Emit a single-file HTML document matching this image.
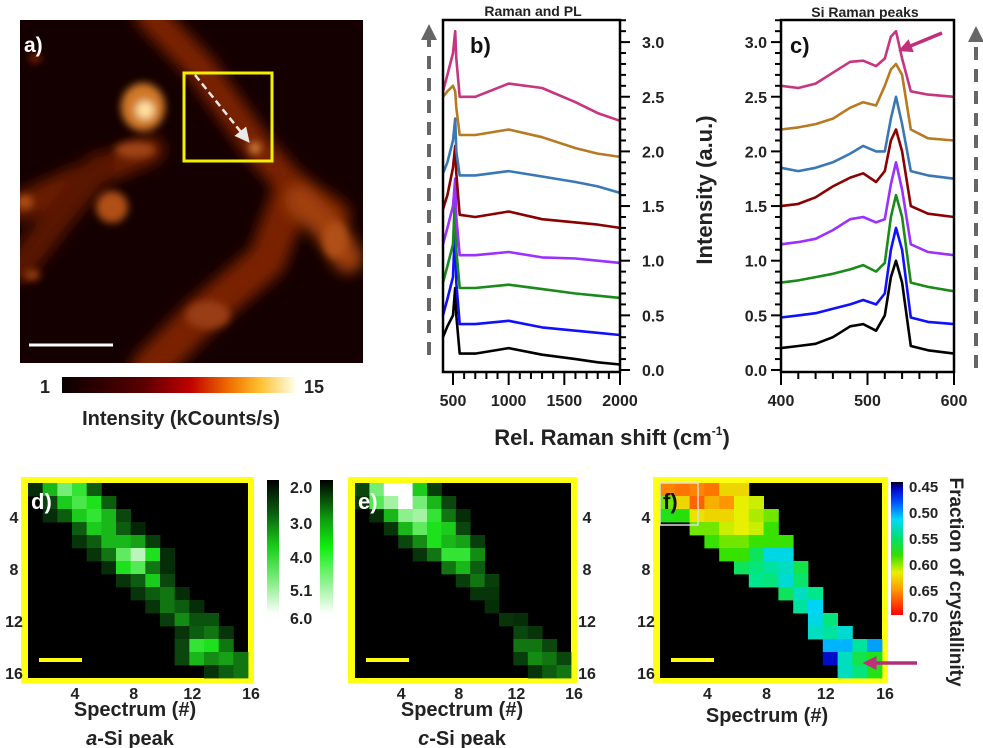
<!DOCTYPE html>
<html><head><meta charset="utf-8"><style>
html,body{margin:0;padding:0;background:#fff;}
svg{display:block;font-family:"Liberation Sans",Arial,sans-serif;font-weight:bold;}
</style></head><body>
<svg id="fig" width="983" height="748" viewBox="0 0 983 748" xmlns="http://www.w3.org/2000/svg">
<defs>
<filter id="bl8" x="-50%" y="-50%" width="200%" height="200%"><feGaussianBlur stdDeviation="7"/></filter>
<filter id="bl4" x="-50%" y="-50%" width="200%" height="200%"><feGaussianBlur stdDeviation="4"/></filter>
<clipPath id="clipA"><rect x="20" y="20" width="343" height="343"/></clipPath>
<linearGradient id="gA" x1="0" x2="1" y1="0" y2="0"><stop offset="0" stop-color="#0a0000"/><stop offset="0.35" stop-color="#5a0000"/><stop offset="0.55" stop-color="#c00000"/><stop offset="0.72" stop-color="#f07000"/><stop offset="0.85" stop-color="#ffc030"/><stop offset="1" stop-color="#ffffe8"/></linearGradient>
<linearGradient id="gG1" x1="0" x2="0" y1="0" y2="1"><stop offset="0" stop-color="#000000"/><stop offset="0.25" stop-color="#0a6010"/><stop offset="0.5" stop-color="#18d018"/><stop offset="0.75" stop-color="#80ec80"/><stop offset="1" stop-color="#ffffff"/></linearGradient>
<linearGradient id="gG2" x1="0" x2="0" y1="0" y2="1"><stop offset="0" stop-color="#000000"/><stop offset="0.3" stop-color="#10a010"/><stop offset="0.5" stop-color="#10ee10"/><stop offset="0.8" stop-color="#a0f4a0"/><stop offset="1" stop-color="#ffffff"/></linearGradient>
<linearGradient id="gF" x1="0" x2="0" y1="0" y2="1"><stop offset="0" stop-color="#000000"/><stop offset="0.04" stop-color="#0000c0"/><stop offset="0.15" stop-color="#0050ff"/><stop offset="0.28" stop-color="#00d8ff"/><stop offset="0.42" stop-color="#00e070"/><stop offset="0.55" stop-color="#30e000"/><stop offset="0.68" stop-color="#e8f000"/><stop offset="0.8" stop-color="#ffa000"/><stop offset="1" stop-color="#ff0000"/></linearGradient>
<marker id="arrW" markerWidth="6" markerHeight="6" refX="3" refY="3" orient="auto"><path d="M0,0 L6,3 L0,6 z" fill="#e8e8e8"/></marker>
<marker id="arrG" markerWidth="4" markerHeight="4" refX="2" refY="2" orient="auto"><path d="M0,0 L4,2 L0,4 z" fill="#666"/></marker>
<marker id="arrP" markerWidth="4" markerHeight="4" refX="1" refY="2" orient="auto"><path d="M0,0 L4,2 L0,4 z" fill="#c0307a"/></marker>
</defs>

<!-- Panel a -->
<g>
<rect x="20" y="20" width="343" height="343" fill="#140000"/>
<g clip-path="url(#clipA)">
<g filter="url(#bl8)" fill="none" stroke-linecap="round">
<polyline points="150,15 200,67 260,150 293,187 335,215" stroke="#7a2204" stroke-width="30"/>
<polyline points="293,190 267,260 200,317 150,368" stroke="#7a2204" stroke-width="38"/>
<polyline points="150,150 90,175 20,207" stroke="#6a1c03" stroke-width="28"/>
<polyline points="100,167 60,215 20,267" stroke="#5a1603" stroke-width="30"/>
<polyline points="300,200 330,230 348,258" stroke="#a04010" stroke-width="30"/>
</g>
<g filter="url(#bl4)">
<ellipse cx="143" cy="107" rx="22" ry="24" fill="#d07828"/>
<ellipse cx="145" cy="110" rx="9" ry="9" fill="#ffe0a0"/>
<ellipse cx="112" cy="207" rx="16" ry="16" fill="#b05018"/>
<ellipse cx="135" cy="150" rx="20" ry="8" fill="#a04414"/>
<ellipse cx="25" cy="202" rx="8" ry="7" fill="#b05018"/>
<ellipse cx="208" cy="315" rx="22" ry="14" fill="#983e14"/>
<ellipse cx="335" cy="240" rx="12" ry="18" fill="#b05018"/>
<ellipse cx="255" cy="148" rx="6" ry="6" fill="#d08040"/>
<ellipse cx="35" cy="58" rx="6" ry="5" fill="#802004"/>
<ellipse cx="32" cy="275" rx="8" ry="5" fill="#a04010"/>
</g>
</g>
<text x="24" y="52" font-size="21" fill="#fff">a)</text>
<rect x="184" y="73" width="88" height="88" fill="none" stroke="#f0f000" stroke-width="3"/>
<line x1="195" y1="75" x2="245" y2="137" stroke="#e8e8e8" stroke-width="2.5" stroke-dasharray="7,4" marker-end="url(#arrW)"/>
<line x1="29" y1="345" x2="113" y2="345" stroke="#fff" stroke-width="3"/>
</g>
<g>
<rect x="62" y="377" width="233" height="16" fill="url(#gA)"/>
<text x="45" y="393" font-size="18" text-anchor="middle" fill="#222">1</text>
<text x="314" y="393" font-size="18" text-anchor="middle" fill="#222">15</text>
<text x="181" y="425" font-size="20" text-anchor="middle" fill="#222">Intensity (kCounts/s)</text>
</g>

<!-- Panels b, c -->
<g id="specB"></g>
<g id="specC"></g>
<text x="533" y="16" font-size="14" text-anchor="middle" fill="#222">Raman and PL</text>
<text x="865" y="17" font-size="14" text-anchor="middle" fill="#222">Si Raman peaks</text>
<text x="470" y="53" font-size="22" fill="#111">b)</text>
<text x="790" y="53" font-size="22" fill="#111">c)</text>
<text x="612" y="445" font-size="22" text-anchor="middle" fill="#222">Rel. Raman shift (cm<tspan font-size="12" dy="-10">-1</tspan><tspan dy="10">)</tspan></text>
<text transform="translate(712,190) rotate(-90)" font-size="22" text-anchor="middle" fill="#222">Intensity (a.u.)</text>
<line x1="429" y1="355" x2="429" y2="32" stroke="#666" stroke-width="4" stroke-dasharray="13,9" marker-end="url(#arrG)"/>
<line x1="976" y1="368" x2="976" y2="34" stroke="#666" stroke-width="4" stroke-dasharray="13,9" marker-end="url(#arrG)"/>
<line x1="942" y1="33" x2="908" y2="47" stroke="#c0307a" stroke-width="3.5" marker-end="url(#arrP)"/>

<!-- Bottom heatmaps -->
<g id="heatD"></g>
<g id="heatE"></g>
<g id="heatF"></g>
<g>
<rect x="267" y="480" width="12" height="134" fill="url(#gG1)"/>
<rect x="320" y="480" width="13" height="134" fill="url(#gG2)"/>
<text x="290" y="493" font-size="16" fill="#222">2.0</text>
<text x="290" y="529" font-size="16" fill="#222">3.0</text>
<text x="290" y="563" font-size="16" fill="#222">4.0</text>
<text x="290" y="596" font-size="16" fill="#222">5.1</text>
<text x="290" y="624" font-size="16" fill="#222">6.0</text>
</g>
<g>
<rect x="891" y="482" width="12" height="133" fill="url(#gF)"/>
<text x="909" y="492" font-size="15" fill="#222">0.45</text>
<text x="909" y="518" font-size="15" fill="#222">0.50</text>
<text x="909" y="544" font-size="15" fill="#222">0.55</text>
<text x="909" y="570" font-size="15" fill="#222">0.60</text>
<text x="909" y="596" font-size="15" fill="#222">0.65</text>
<text x="909" y="622" font-size="15" fill="#222">0.70</text>
<text transform="translate(950,582) rotate(90)" font-size="19" text-anchor="middle" fill="#222">Fraction of crystallinity</text>
</g>
<text x="135" y="716" font-size="20" text-anchor="middle" fill="#222">Spectrum (#)</text>
<text x="130" y="745" font-size="20" text-anchor="middle" fill="#222"><tspan font-style="italic">a</tspan>-Si peak</text>
<text x="462" y="716" font-size="20" text-anchor="middle" fill="#222">Spectrum (#)</text>
<text x="462" y="745" font-size="20" text-anchor="middle" fill="#222"><tspan font-style="italic">c</tspan>-Si peak</text>
<text x="767" y="722" font-size="20" text-anchor="middle" fill="#222">Spectrum (#)</text>
<line x1="917" y1="663" x2="873" y2="663" stroke="#b0307a" stroke-width="3.5" marker-end="url(#arrP)"/>
</svg>
<script>
const NS="http://www.w3.org/2000/svg";
// ---- Panel b data ----
const shiftB=[410,450,500,520,530,560,700,1000,1300,1600,1800,2000];
const bBlack=[0.3,0.4,0.5,0.75,0.5,0.15,0.15,0.2,0.14,0.1,0.07,0.05];
const bBlue=[0.5,0.65,0.85,1.35,0.8,0.42,0.42,0.45,0.39,0.36,0.34,0.32];
const bGreen=[0.8,0.95,1.15,1.65,1.1,0.75,0.75,0.78,0.74,0.7,0.68,0.66];
const bPurple=[1.15,1.3,1.5,1.75,1.4,1.05,1.05,1.08,1.03,1.02,1.0,0.98];
const bRed=[1.47,1.6,1.85,2.05,1.8,1.42,1.4,1.45,1.38,1.35,1.33,1.3];
const bSteel=[1.8,1.9,2.1,2.3,2.0,1.78,1.78,1.82,1.77,1.72,1.68,1.62];
const bBrown=[2.5,2.55,2.6,2.55,2.4,2.15,2.15,2.2,2.13,2.03,1.98,1.95];
const bPink=[2.55,2.7,2.9,3.1,2.85,2.5,2.5,2.62,2.58,2.45,2.35,2.28];
// ---- Panel c data ----
const shiftC=[400,420,440,460,480,495,510,520,527,533,540,550,570,600];
const cBlack=[0.2,0.22,0.24,0.3,0.4,0.42,0.36,0.5,0.85,1.0,0.8,0.22,0.18,0.15];
const cBlue=[0.48,0.5,0.52,0.56,0.6,0.64,0.6,0.7,1.1,1.3,1.1,0.48,0.44,0.42];
const cGreen=[0.8,0.82,0.85,0.88,0.92,0.96,0.9,0.98,1.4,1.6,1.4,0.8,0.76,0.72];
const cPurple=[1.15,1.17,1.2,1.28,1.38,1.4,1.35,1.38,1.7,1.9,1.65,1.15,1.08,1.05];
const cRed=[1.5,1.52,1.58,1.68,1.76,1.8,1.72,1.82,2.1,2.2,2.0,1.5,1.43,1.4];
const cSteel=[1.85,1.82,1.85,1.9,1.98,2.05,2.0,2.0,2.3,2.5,2.25,1.82,1.78,1.75];
const cBrown=[2.2,2.22,2.25,2.3,2.4,2.45,2.42,2.6,2.75,2.8,2.7,2.2,2.12,2.1];
const cPink=[2.6,2.58,2.62,2.72,2.82,2.83,2.78,2.85,3.05,3.1,2.85,2.55,2.52,2.5];
const seriesNames=["black","blue","green","purple","darkred","steelblue","brown","pink"];
const seriesColors=["#000000","#1010ff","#1a8a1a","#9b30ff","#8b0000","#3a78b5","#b87a20","#c8357f"];
const yTicks=[0,0.5,1.0,1.5,2.0,2.5,3.0];
const bXTicks=[500,1000,1500,2000];
const cXTicks=[400,500,600];
// ---- heatmap data (15x15 visible cells, spectrum 2..16) ----
const aSi=[
[2.3,3.6,4.8,4.2,2.8,0,0,0,0,0,0,0,0,0,0],
[0,2.6,3.8,4.4,4.0,2.8,0,0,0,0,0,0,0,0,0],
[0,2.3,2.8,3.8,4.2,3.6,2.6,0,0,0,0,0,0,0,0],
[0,0,0,2.8,3.8,3.6,2.8,2.2,0,0,0,0,0,0,0],
[0,0,0,2.4,2.8,3.6,3.6,3.4,2.5,0,0,0,0,0,0],
[0,0,0,0,2.4,3.0,4.6,5.4,4.0,2.3,0,0,0,0,0],
[0,0,0,0,0,2.3,4.0,4.5,3.0,2.3,0,0,0,0,0],
[0,0,0,0,0,0,2.4,2.8,3.8,2.6,0,0,0,0,0],
[0,0,0,0,0,0,0,2.4,2.8,3.0,2.3,0,0,0,0],
[0,0,0,0,0,0,0,0,2.4,3.0,2.8,2.3,0,0,0],
[0,0,0,0,0,0,0,0,0,2.5,3.2,2.7,2.7,0,0],
[0,0,0,0,0,0,0,0,0,0,2.4,2.8,3.0,2.4,0],
[0,0,0,0,0,0,0,0,0,0,2.6,4.2,4.0,3.0,0],
[0,0,0,0,0,0,0,0,0,0,2.6,3.6,3.2,3.4,3.0],
[0,0,0,0,0,0,0,0,0,0,0,0,2.4,2.8,3.0]];
const cSi=[
[2.6,4.8,6.0,6.0,3.8,2.5,0,0,0,0,0,0,0,0,0],
[2.4,4.5,5.2,6.0,4.8,3.6,2.6,0,0,0,0,0,0,0,0],
[0,2.3,3.6,5.0,5.2,4.2,3.0,2.3,0,0,0,0,0,0,0],
[0,0,2.4,3.6,4.6,4.0,3.8,2.6,0,0,0,0,0,0,0],
[0,0,0,2.6,3.2,4.0,3.6,3.4,2.5,0,0,0,0,0,0],
[0,0,0,0,2.4,3.0,4.2,4.2,3.2,0,0,0,0,0,0],
[0,0,0,0,0,0,3.0,3.6,2.8,0,0,0,0,0,0],
[0,0,0,0,0,0,0,2.5,3.0,2.5,0,0,0,0,0],
[0,0,0,0,0,0,0,0,2.4,2.4,0,0,0,0,0],
[0,0,0,0,0,0,0,0,0,2.3,0,0,0,0,0],
[0,0,0,0,0,0,0,0,0,0,2.4,2.3,0,0,0],
[0,0,0,0,0,0,0,0,0,0,0,2.6,2.4,0,0],
[0,0,0,0,0,0,0,0,0,0,0,3.0,3.0,2.6,0],
[0,0,0,0,0,0,0,0,0,0,0,2.5,3.2,3.0,2.6],
[0,0,0,0,0,0,0,0,0,0,0,0,2.4,2.8,3.0]];
const cryst=[
[0.66,0.665,0.66,0.665,0.63,0.63,0,0,0,0,0,0,0,0,0],
[0.6,0.63,0.67,0.645,0.655,0.62,0.615,0,0,0,0,0,0,0,0],
[0.58,0.585,0.625,0.63,0.63,0.62,0.61,0.6,0,0,0,0,0,0,0],
[0,0,0.6,0.6,0.615,0.62,0.615,0.59,0,0,0,0,0,0,0],
[0,0,0,0.59,0.6,0.6,0.59,0.59,0.59,0,0,0,0,0,0],
[0,0,0,0,0.59,0.59,0.56,0.52,0.52,0,0,0,0,0,0],
[0,0,0,0,0,0.56,0.55,0.54,0.53,0.565,0,0,0,0,0],
[0,0,0,0,0,0,0.545,0.55,0.525,0.555,0,0,0,0,0],
[0,0,0,0,0,0,0,0,0.56,0.53,0.545,0,0,0,0],
[0,0,0,0,0,0,0,0,0,0.54,0.515,0,0,0,0],
[0,0,0,0,0,0,0,0,0,0,0.52,0.55,0,0,0],
[0,0,0,0,0,0,0,0,0,0,0.53,0.54,0.525,0,0],
[0,0,0,0,0,0,0,0,0,0,0,0.505,0.505,0.54,0.5],
[0,0,0,0,0,0,0,0,0,0,0,0.455,0.53,0.565,0.58],
[0,0,0,0,0,0,0,0,0,0,0,0,0.53,0.55,0.58]];
const heatTicks=[4,8,12,16];

function el(tag,attrs,parent){const e=document.createElementNS(NS,tag);for(const k in attrs)e.setAttribute(k,attrs[k]);parent.appendChild(e);return e;}
function txt(s,attrs,parent){const t=el("text",attrs,parent);t.textContent=s;return t;}

const yS=v=>370-v*109.3;
const xB=v=>453+(v-500)*0.11133;
const xC=v=>781+(v-400)*0.865;

(function(){
 const g=document.getElementById("specB");
 const data=[bBlack,bBlue,bGreen,bPurple,bRed,bSteel,bBrown,bPink];
 data.forEach((arr,i)=>{
  const p=el("polyline",{points:arr.map((v,j)=>xB(shiftB[j]).toFixed(1)+","+yS(v).toFixed(1)).join(" "),fill:"none",stroke:seriesColors[i],"stroke-width":"2.6","stroke-linejoin":"round"},g);
  
  
 });
 const fr=el("rect",{x:443,y:20,width:177,height:352,fill:"none",stroke:"#000","stroke-width":"2.5"},g);
 
 
 for(let v=0;v<=3.2001;v+=0.1){const maj=Math.abs(v*2-Math.round(v*2))<1e-6;el("line",{x1:620,x2:maj?630:626,y1:yS(v),y2:yS(v),stroke:"#000","stroke-width":"2"},g);}
 yTicks.forEach(v=>{const t=txt(v.toFixed(1),{x:642,y:yS(v)+6,"font-size":"16",fill:"#222"},g);
  
  });
 for(let v=500;v<=2000;v+=100){const maj=v%500===0;el("line",{x1:xB(v),x2:xB(v),y1:372,y2:maj?385:379,stroke:"#000","stroke-width":"2"},g);}
 bXTicks.forEach(v=>{const t=txt(String(v),{x:xB(v),y:406,"font-size":"16","text-anchor":"middle",fill:"#222"},g);
  
  });
})();
(function(){
 const g=document.getElementById("specC");
 const data=[cBlack,cBlue,cGreen,cPurple,cRed,cSteel,cBrown,cPink];
 data.forEach((arr,i)=>{
  const p=el("polyline",{points:arr.map((v,j)=>xC(shiftC[j]).toFixed(1)+","+yS(v).toFixed(1)).join(" "),fill:"none",stroke:seriesColors[i],"stroke-width":"2.6","stroke-linejoin":"round"},g);
  
  
 });
 const fr=el("rect",{x:781,y:20,width:173,height:352,fill:"none",stroke:"#000","stroke-width":"2.5"},g);
 
 
 for(let v=0;v<=3.2001;v+=0.1){const maj=Math.abs(v*2-Math.round(v*2))<1e-6;el("line",{x1:781,x2:maj?771:775,y1:yS(v),y2:yS(v),stroke:"#000","stroke-width":"2"},g);}
 yTicks.forEach(v=>{const t=txt(v.toFixed(1),{x:767,y:yS(v)+6,"font-size":"16","text-anchor":"end",fill:"#222"},g);
  
  });
 for(let v=400;v<=600;v+=20){const maj=v%100===0;el("line",{x1:xC(v),x2:xC(v),y1:372,y2:maj?385:379,stroke:"#000","stroke-width":"2"},g);}
 cXTicks.forEach(v=>{const t=txt(String(v),{x:xC(v),y:406,"font-size":"16","text-anchor":"middle",fill:"#222"},g);
  
  });
})();

function lerpStops(stops,t){t=Math.max(0,Math.min(1,t));for(let i=1;i<stops.length;i++){if(t<=stops[i][0]){const a=stops[i-1],b=stops[i],f=(t-a[0])/(b[0]-a[0]||1);const c=[0,1,2].map(k=>Math.round(a[1][k]+(b[1][k]-a[1][k])*f));return "rgb("+c.join(",")+")";}}const l=stops[stops.length-1][1];return "rgb("+l.join(",")+")";}
const greenStops=[[0,[0,20,0]],[0.15,[10,70,14]],[0.3,[20,140,20]],[0.5,[30,225,30]],[0.75,[140,240,140]],[1,[255,255,255]]];
const jetStops=[[0,[0,0,190]],[0.12,[0,80,255]],[0.25,[0,210,255]],[0.38,[0,230,140]],[0.55,[40,225,0]],[0.68,[230,240,0]],[0.82,[255,150,0]],[1,[255,0,0]]];
const gCol=v=>lerpStops(greenStops,(v-2)/4);
const fCol=v=>lerpStops(jetStops,(v-0.45)/0.25);

function heat(id,mat,ox,oy,iw,ih,colFn,pref,tickSide,lab){
 const g=document.getElementById(id);
 el("rect",{x:ox-7,y:oy-6,width:iw+13,height:ih+11,fill:"#ffff10"},g);
 el("rect",{x:ox,y:oy,width:iw,height:ih,fill:"#000"},g);
 const xs=u=>ox+(u-1)*iw/15, ys=u=>oy+(u-1)*ih/15;
 mat.forEach((row,r)=>row.forEach((v,c)=>{
  if(v<=0)return;
  const cell=el("rect",{x:xs(c+1).toFixed(2),y:ys(r+1).toFixed(2),width:(iw/15+0.4).toFixed(2),height:(ih/15+0.4).toFixed(2),fill:colFn(v)},g);
  
  
 }));
 heatTicks.forEach(u=>{
  const tx=txt(String(u),{x:xs(u)+3,y:oy+ih+21,"font-size":"16","text-anchor":"middle",fill:"#222"},g);
  
  
  const yx=tickSide==="left"?ox-14:ox+iw+16;
  const ty=txt(String(u),{x:yx,y:ys(u)+1,"font-size":"16","text-anchor":"middle",fill:"#222"},g);
  
  
 });
 const sb=el("line",{x1:ox+11,x2:ox+54,y1:oy+177,y2:oy+177,stroke:"#ffff10","stroke-width":"4"},g);
 
 
 const pl=txt(lab,{x:ox+3,y:oy+26,"font-size":"22",fill:lab==="f)"?"#111":"#fff"},g);
 
 
 return g;
}
heat("heatD",aSi,28,483,220,195,gCol,"d","left","d)");
heat("heatE",cSi,355,483,216,195,gCol,"e","right","e)");
const gf=heat("heatF",cryst,660,483,222,195,fCol,"f","left","f)");
el("rect",{x:660,y:483,width:38,height:42,fill:"none",stroke:"#ddd","stroke-width":"1.5"},gf);
</script>
</body></html>
